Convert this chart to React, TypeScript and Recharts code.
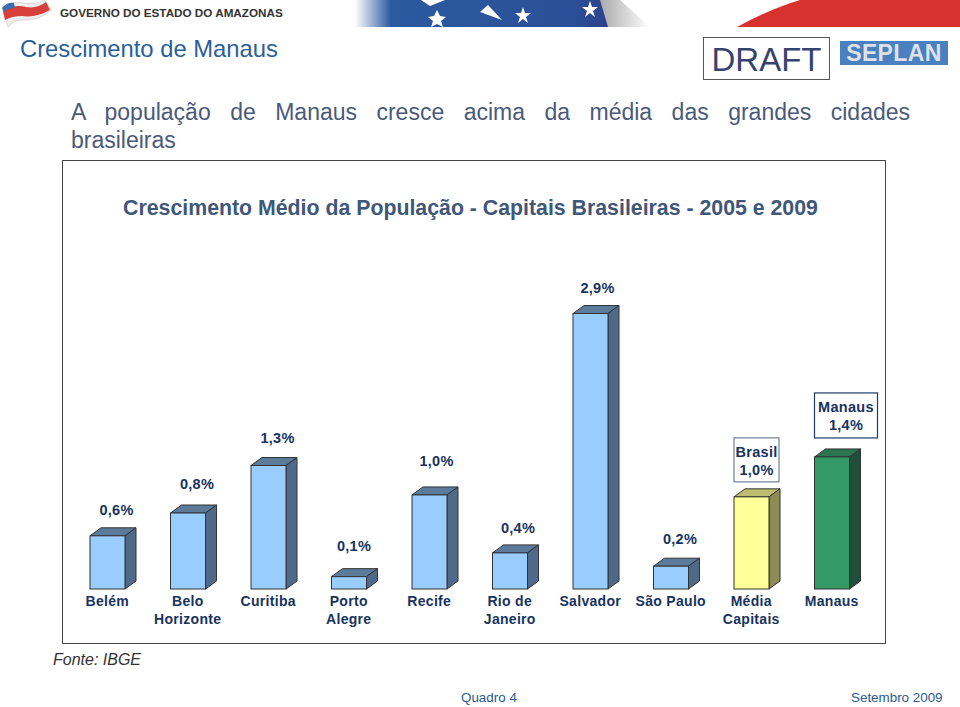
import React from "react";
import { BarChart, Bar, XAxis, YAxis, LabelList } from "recharts";

const cities = ["Belém", "Belo Horizonte", "Curitiba", "Porto Alegre", "Recife", "Rio de Janeiro", "Salvador", "São Paulo", "Média Capitais", "Manaus"];
const growth = [0.56, 0.8, 1.3, 0.13, 0.99, 0.38, 2.9, 0.24, 0.97, 1.39];
const boxTitles: Record<number, string> = { 8: "Brasil", 9: "Manaus" };
const tickLines: Record<string, string[]> = { "Rio de Janeiro": ["Rio de", "Janeiro"], "São Paulo": ["São Paulo"] };

const blue = { front: "#99ccff", top: "#5c7a99", side: "#4f6a88" };
const yellow = { front: "#ffff99", top: "#bdbd70", side: "#8c8c55" };
const green = { front: "#339966", top: "#2a7550", side: "#1f4f3a" };
const barColors = [blue, blue, blue, blue, blue, blue, blue, blue, yellow, green];

// label nudges from the bar centre / bar top, tuned by eye
const labelDx = [9, 9, 9, 5, 7, 8, 7, 9];
const labelDy = [-26, -29, -28, -31, -34, -25, -26, -27];

const chartData = cities.map((city, i) => ({ city, growth: growth[i] }));
const ink = "#17335f";
const sans = "'Liberation Sans', Arial, sans-serif";
const pct = (v: number) => v.toFixed(1).replace(".", ",") + "%";

function Bar3D(props: any) {
  const { x, y, width, height, index } = props;
  const c = barColors[index];
  const dx = 11;
  const dy = 8;
  const r = x + width;
  const b = y + height;
  const stroke = { stroke: "#333", strokeWidth: 1 };
  return (
    <g>
      <polygon points={`${x},${y} ${x + dx},${y - dy} ${r + dx},${y - dy} ${r},${y}`} fill={c.top} {...stroke} />
      <polygon points={`${r},${y} ${r + dx},${y - dy} ${r + dx},${b - dy} ${r},${b}`} fill={c.side} {...stroke} />
      <rect x={x} y={y} width={width} height={height} fill={c.front} {...stroke} />
    </g>
  );
}

function CityTick(props: any) {
  const { x, y, payload } = props;
  const name = String(payload.value);
  const lines = tickLines[name] || name.split(" ");
  return (
    <text textAnchor="middle" fontFamily={sans} fontSize={14} fontWeight="bold" fill={ink} letterSpacing={0.3}>
      {lines.map((l, i) => (
        <tspan key={l} x={x} y={y + 9 + i * 18}>{l}</tspan>
      ))}
    </text>
  );
}

function ValueLabel(props: any) {
  const { x, y, width, index, value } = props;
  const mid = x + width / 2;
  const common = { textAnchor: "middle" as const, fontFamily: sans, fontSize: 14.5, fontWeight: "bold", fill: ink, letterSpacing: 0.3 };
  const title = boxTitles[index];
  if (title) {
    const isManaus = index === 9;
    const bw = isManaus ? 63 : 45;
    const bh = isManaus ? 45 : 44;
    const gap = isManaus ? 19 : 15;
    const tc = x + bw / 2;
    return (
      <g>
        <rect x={x} y={y - gap - bh} width={bw} height={bh} fill="#fff" stroke={isManaus ? "#1d3a66" : "#6f8095"} strokeWidth={1.2} />
        <text {...common} x={tc} y={y - gap - bh + 19}>{title}</text>
        <text {...common} x={tc} y={y - gap - bh + 37}>{pct(value)}</text>
      </g>
    );
  }
  return (
    <text {...common} x={mid + labelDx[index]} y={y + labelDy[index] + 5}>{pct(value)}</text>
  );
}

function Banner() {
  return (
    <svg width={960} height={27} style={{ position: "absolute", left: 0, top: 0 }}>
      <defs>
        <linearGradient id="fade" x1="0" x2="1" y1="0" y2="0">
          <stop offset="0" stopColor="#fff" />
          <stop offset="0.14" stopColor="#2a5a9f" />
          <stop offset="0.85" stopColor="#2b4f98" />
          <stop offset="1" stopColor="#2b3f88" />
        </linearGradient>
        <linearGradient id="fadeOut" x1="0" x2="1" y1="0" y2="0">
          <stop offset="0" stopColor="#aaa" />
          <stop offset="1" stopColor="#fff" />
        </linearGradient>
      </defs>
      <path d="M2,8 Q12,0 24,3 Q36,5 44,0 L52,10 Q38,21 22,20 Q14,20 8,27 Z" fill="#eee" stroke="#bbb" strokeWidth={0.5} />
      <path d="M3,11 Q14,4 26,7 Q37,9 46,2 L50,10 Q36,18 22,16 Q12,16 5,20 Z" fill="#d7403a" />
      <path d="M2,8 Q7,2 14,3 L15,8 Q8,8 4,12 Z" fill="#3d6fb0" />
      <text x={60} y={16.5} fontFamily={sans} fontSize={11.7} fontWeight="bold" fill="#333">GOVERNO DO ESTADO DO AMAZONAS</text>
      <rect x={355} y={0} width={258} height={27} fill="url(#fade)" />
      <path d="M600,0 L608,27 L650,27 L620,0 Z" fill="url(#fadeOut)" />
      <path d="M523,7 l2,6 6,0 -5,4 2,6 -5,-4 -5,4 2,-6 -5,-4 6,0 Z" fill="#fff" />
      <path d="M590,1 l2,6 6,0 -5,4 2,6 -5,-4 -5,4 2,-6 -5,-4 6,0 Z" fill="#fff" />
      <path d="M437,10 l3,6 6,1 -5,4 2,6 -6,-3 -6,3 2,-6 -5,-4 6,-1 Z" fill="#fff" />
      <path d="M480,12 L488,5 L502,20 Z" fill="#fff" />
      <path d="M421,0 L445,0 L430,6 Z" fill="#fff" />
      <path d="M737,27 Q770,9 800,0 L960,0 L960,27 Z" fill="#d8322e" />
    </svg>
  );
}

export default function App() {
  return (
    <div style={{ position: "absolute", left: 0, top: 0, width: 960, height: 707, background: "#fff", fontFamily: sans, overflow: "hidden" }}>
      <style>{"body{margin:0}"}</style>
      <Banner />
      <div style={{ position: "absolute", left: 20, top: 35, fontSize: 23.8, color: "#2a6099" }}>Crescimento de Manaus</div>
      <div style={{ position: "absolute", left: 703, top: 37, width: 125, height: 41, border: "1.5px solid #555", textAlign: "center", fontSize: 33, lineHeight: "44px", color: "#34446e" }}>DRAFT</div>
      <div style={{ position: "absolute", left: 840, top: 41, width: 108, height: 24, background: "#4a7fc0" }} />
      <div style={{ position: "absolute", left: 840, top: 41, width: 108, textAlign: "center", fontSize: 23, lineHeight: "24px", fontWeight: "bold", color: "#dde1e8", letterSpacing: 0.4 }}>SEPLAN</div>
      <div style={{ position: "absolute", left: 71, top: 98, width: 839, fontSize: 23, lineHeight: "28px", color: "#4a5a7a", textAlign: "justify", textAlignLast: "justify" }}>
        A população de Manaus cresce acima da média das grandes cidades
      </div>
      <div style={{ position: "absolute", left: 71, top: 126, fontSize: 23, lineHeight: "28px", color: "#4a5a7a" }}>brasileiras</div>
      <div style={{ position: "absolute", left: 62, top: 160, width: 822, height: 482, border: "1.5px solid #444" }} />
      <div style={{ position: "absolute", left: 63, width: 815, top: 196, textAlign: "center", fontSize: 21.3, fontWeight: "bold", color: "#3f5779" }}>
        Crescimento Médio da População - Capitais Brasileiras - 2005 e 2009
      </div>
      <div style={{ position: "absolute", left: 0, top: 0 }}>
        <BarChart width={960} height={707} data={chartData} margin={{ top: 304, right: 88, bottom: 78, left: 67 }}>
          <XAxis dataKey="city" axisLine={false} tickLine={false} interval={0} height={40} tick={CityTick} />
          <YAxis hide domain={[0, 3]} />
          <Bar dataKey="growth" barSize={35} isAnimationActive={false} shape={Bar3D}>
            <LabelList dataKey="growth" content={ValueLabel} />
          </Bar>
        </BarChart>
      </div>
      <div style={{ position: "absolute", left: 53, top: 651, fontSize: 16, fontStyle: "italic", color: "#333" }}>Fonte: IBGE</div>
      <div style={{ position: "absolute", left: 461, top: 690, fontSize: 13.4, color: "#2a5a90" }}>Quadro 4</div>
      <div style={{ position: "absolute", left: 851, top: 690, fontSize: 13.4, color: "#2a5a90" }}>Setembro 2009</div>
    </div>
  );
}
